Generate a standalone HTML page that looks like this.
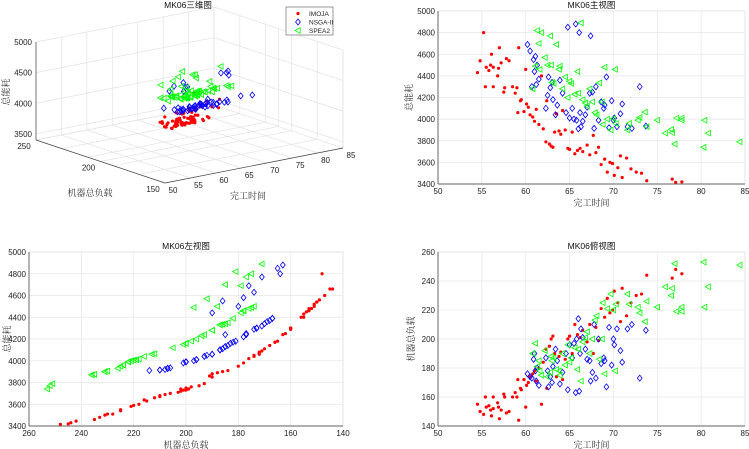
<!DOCTYPE html>
<html><head><meta charset="utf-8"><style>
html,body{margin:0;padding:0;background:#fff;}
svg{display:block;font-family:"Liberation Sans","Noto Sans CJK SC",sans-serif;}
.t{font-size:8px;fill:#222;}
.ttl{font-size:8.5px;fill:#111;}
.lab{font-size:9px;fill:#333;font-family:"Liberation Serif","Noto Serif CJK SC",serif;}
</style></head><body>
<svg id="c" width="749" height="449" viewBox="0 0 749 449"></svg>
<script>
// [makespan, load, energy]
const imoja=[[54.5,155,4430],[54.8,150,4540],[55.2,148,4800],[55.4,160,4300],[55.5,153,4480],[55.8,154,4450],[56,151,4500],[56.1,147,4600],[56.3,160,4300],[56.3,152,4480],[56.8,156,4400],[56.9,153,4470],[57,145,4660],[57.2,151,4520],[57.5,162,4250],[57.6,160,4290],[57.8,149,4560],[58.1,150,4540],[58.5,160,4300],[58.8,163,4240],[59,160,4290],[59.1,172,4060],[59.2,144,4660],[59.4,166,4170],[59.5,165,4180],[59.8,172,4070],[60,153,4460],[60.1,168,4140],[60.3,170,4110],[60.5,174,4040],[60.8,176,4020],[61,178,3980],[61.2,171,4090],[61.5,180,3950],[61.8,155,4400],[62,184,3910],[62.3,193,3790],[62.4,166,4170],[62.7,195,3770],[62.9,200,3750],[63.1,202,3740],[63.3,190,3880],[63.5,174,4050],[63.8,188,3890],[64,191,3860],[64.2,172,4080],[64.5,186,3900],[64.8,200,3730],[65,202,3720],[65.3,190,3880],[65.6,210,3680],[65.9,203,3710],[66.2,201,3730],[66.5,206,3700],[67,198,3760],[67.3,210,3670],[67.7,190,3850],[68,208,3690],[68.3,199,3740],[68.6,221,3580],[69,215,3630],[69.3,228,3510],[69.6,218,3600],[69.9,220,3590],[70.1,233,3480],[70.5,225,3550],[70.8,212,3660],[71,235,3460],[71.5,216,3640],[72,225,3540],[72.6,230,3510],[73.2,231,3500],[73.8,244,3430],[76.7,242,3445],[77.1,248,3415],[77.8,245,3420]];
const nsga=[[60.2,176,4690],[60.5,174,4630],[60.7,173,4300],[60.9,186,4550],[61,190,4440],[61.1,178,4580],[61.2,171,4320],[61.3,180,4500],[61.5,168,4370],[62.3,187,4100],[62.5,178,4220],[62.6,167,4390],[62.8,174,4290],[63,170,4340],[63.1,181,4180],[63.4,193,4040],[63.6,185,4130],[63.9,169,4360],[64.2,177,4240],[64.6,190,4060],[64.8,165,4850],[65,196,4010],[65.3,187,4100],[65.5,197,4000],[65.7,163,4880],[65.8,200,3990],[66,214,3910],[66.1,164,4800],[66.2,190,4060],[66.3,207,3930],[66.5,201,3980],[66.8,193,4040],[67,186,4110],[67.3,185,4240],[67.4,171,4770],[67.6,177,4250],[67.8,210,3915],[68,173,4300],[68.3,200,3990],[68.6,183,4160],[68.9,187,4100],[69,185,4130],[69.2,167,4390],[69.5,208,3920],[69.8,182,4170],[70,200,3990],[70.1,196,4010],[70.4,207,3930],[70.8,192,4050],[71,184,4140],[71.6,207,3930],[72.1,210,3915],[73,173,4300],[73.7,206,3935]];
const spea=[[60.8,190,4280],[61.1,197,4490],[61.3,181,4820],[61.5,185,4700],[61.6,178,4460],[61.8,175,4800],[62.2,192,4570],[62.5,174,4500],[62.8,177,4770],[62.9,188,4500],[63,185,4340],[63.2,187,4330],[63.5,179,4690],[63.8,178,4460],[63.9,175,4490],[64.2,190,4280],[64.5,182,4390],[64.8,196,4200],[65,184,4350],[65.2,187,4330],[65.6,194,4230],[65.9,179,4440],[66,193,4240],[66.3,171,4890],[66.5,198,4180],[66.8,201,4150],[67,205,4120],[67.3,190,4280],[67.6,200,4160],[67.9,213,4060],[68.1,216,4040],[68.4,186,4335],[68.7,200,4160],[68.8,225,3950],[69,176,4480],[69.3,221,4000],[69.7,231,3900],[70,220,4005],[70.2,178,4460],[70.3,224,3960],[71.6,231,3900],[71.8,224,3960],[72.8,222,3990],[73,218,4015],[73.8,226,3930],[73.6,212,4065],[75,222,3990],[75.9,236,3870],[76.6,230,3905],[76.7,235,3875],[77,252,3770],[77.2,219,4010],[77.8,222,3990],[77.8,219,4010],[80.3,253,3740],[80.4,222,3990],[80.8,236,3870],[84.4,251,3790]];
const seriesNames=["IMOJA","NSGA-II","SPEA2"];
const mkTicks=[50,55,60,65,70,75,80,85];
const eTicks=[3400,3600,3800,4000,4200,4400,4600,4800,5000];
const loadTicks=[260,240,220,200,180,160,140];
const loadTicksTop=[140,160,180,200,220,240,260];
const e3Ticks=[3500,4000,4500,5000];
const load3Ticks=[150,200,250];

const svg=document.getElementById('c');
const NS='http://www.w3.org/2000/svg';
function mk(tag,attrs,parent){const e=document.createElementNS(NS,tag);for(const k in attrs)e.setAttribute(k,attrs[k]);(parent||svg).appendChild(e);return e;}
function txt(x,y,s,cls,anchor,parent){const e=mk('text',{x:x,y:y,class:cls,'text-anchor':anchor||'middle'},parent);e.textContent=s;return e;}
function marker(g,k,x,y){
  let e;
  if(k===0){e=mk('circle',{cx:x,cy:y,r:1.6,fill:'#ff0000'},g);}
  else if(k===1){e=mk('polygon',{points:`${x},${y-3} ${x+2.4},${y} ${x},${y+3} ${x-2.4},${y}`,fill:'none',stroke:'#0000ff','stroke-width':0.8},g);}
  else {e=mk('polygon',{points:`${x-3},${y} ${x+2.2},${y-2.8} ${x+2.2},${y+2.8}`,fill:'none',stroke:'#00ff00','stroke-width':0.8},g);}
  
  
}
const data=[imoja,nsga,spea];

function plot2d(o){
  const g=mk('g',{});
  
  
  const sx=v=>o.x0+(v-o.xd[0])/(o.xd[1]-o.xd[0])*(o.x1-o.x0);
  const sy=v=>o.y1-(v-o.yd[0])/(o.yd[1]-o.yd[0])*(o.y1-o.y0);
  mk('rect',{x:o.x0,y:o.y0,width:o.x1-o.x0,height:o.y1-o.y0,fill:'#fff',stroke:'#d8d8d8','stroke-width':0.7},g);
  const xa=mk('g',{},g);
  o.xt.forEach(v=>{const x=sx(v);mk('line',{x1:x,x2:x,y1:o.y0,y2:o.y1,stroke:'#e6e6e6','stroke-width':0.7},xa);txt(x,o.y1+10,v,'t','middle',xa);});
  const ya=mk('g',{},g);
  o.yt.forEach(v=>{const y=sy(v);mk('line',{x1:o.x0,x2:o.x1,y1:y,y2:y,stroke:'#e6e6e6','stroke-width':0.7},ya);txt(o.x0-3,y+3,v,'t','end',ya);});
  mk('line',{x1:o.x0,x2:o.x1,y1:o.y1,y2:o.y1,stroke:'#333','stroke-width':0.7},g);
  mk('line',{x1:o.x0,x2:o.x0,y1:o.y0,y2:o.y1,stroke:'#333','stroke-width':0.7},g);
  const pts=mk('g',{},g);
  data.forEach((ser,k)=>ser.forEach(p=>marker(pts,k,sx(p[o.xi]),sy(p[o.yi]))));
  const t=txt((o.x0+o.x1)/2,o.y0-3,o.title,'ttl','middle',g);
  const xl=txt((o.x0+o.x1)/2,o.y1+22,o.xl,'lab','middle',g);
  const yx=o.ylx,yy=(o.y0+o.y1)/2;
  const yl=txt(yx,yy,o.yl,'lab','middle',g);yl.setAttribute('transform',`rotate(-90 ${yx} ${yy})`);
}
plot2d({name:'front-view-plot',x0:438,x1:745,y0:11,y1:184,xd:[50,85],yd:[3400,5000],xt:mkTicks,yt:eTicks,xi:0,yi:2,title:'MK06主视图',xl:'完工时间',yl:'总能耗',ylx:412});
plot2d({name:'left-view-plot',x0:29,x1:343,y0:252,y1:426,xd:[260,140],yd:[3400,5000],xt:loadTicks,yt:eTicks,xi:1,yi:2,title:'MK06左视图',xl:'机器总负载',yl:'总能耗',ylx:10});
plot2d({name:'top-view-plot',x0:438,x1:745,y0:252,y1:426,xd:[50,85],yd:[140,260],xt:mkTicks,yt:loadTicksTop,xi:0,yi:1,title:'MK06俯视图',xl:'完工时间',yl:'机器总负载',ylx:414});

// 3D view
(function(){
  const g=mk('g',{});
  
  
  const P=(m,l,e)=>[36+(m-50)/35*178+(250-l)/100*129, 140-(m-50)/35*35+(250-l)/100*43-(e-3400)*98/1600];
  const L=(a,b,c)=>mk('line',{x1:a[0],y1:a[1],x2:b[0],y2:b[1],stroke:c||'#e3e3e3','stroke-width':0.7},g);
  const mg=[50,55,60,65,70,75,80,85], lg=[150,170,190,210,230,250];
  mg.forEach(m=>{L(P(m,250,3400),P(m,250,5000));L(P(m,250,3400),P(m,150,3400));});
  lg.concat([150,200,250]).forEach(l=>{L(P(85,l,3400),P(85,l,5000));L(P(50,l,3400),P(85,l,3400));});
  [3500,4000,4500,5000].forEach(e=>{L(P(50,250,e),P(85,250,e));L(P(85,250,e),P(85,150,e));});
  L(P(50,250,3400),P(50,250,5000),'#444');
  L(P(50,250,3400),P(50,150,3400),'#444');
  L(P(50,150,3400),P(85,150,3400),'#444');
  e3Ticks.forEach(e=>{const p=P(50,250,e);const t=txt(p[0]-4,p[1]+3,e,'t','end',g);});
  load3Ticks.forEach(l=>{const p=P(50,l,3400);const t=txt(p[0]-12,p[1]+9,l,'t','middle',g);});
  mkTicks.forEach(m=>{const p=P(m,150,3400);const t=txt(p[0]+8,p[1]+10,m,'t','middle',g);});
  const pts=mk('g',{},g);
  data.forEach((ser,k)=>ser.forEach(p=>{const q=P(p[0],p[1],p[2]);marker(pts,k,q[0],q[1]);}));
  const t=txt(188,8,'MK06三维图','ttl','middle',g);
  const a=txt(90,196,'机器总负载','lab','middle',g);
  const b=txt(248,199,'完工时间','lab','middle',g);
  const c=txt(9,92,'总能耗','lab','middle',g);c.setAttribute('transform','rotate(-90 9 92)');
  const lgd=mk('g',{},g);
  mk('rect',{x:286,y:7,width:47,height:28,fill:'#fff',stroke:'#555','stroke-width':0.6},lgd);
  seriesNames.forEach((n,k)=>{const y=13.5+k*8.5;marker(lgd,k,298,y);const e=txt(309,y+2.5,n,'t','start',lgd);e.setAttribute('style','font-size:6.5px');});
})();
</script>
</body></html>
